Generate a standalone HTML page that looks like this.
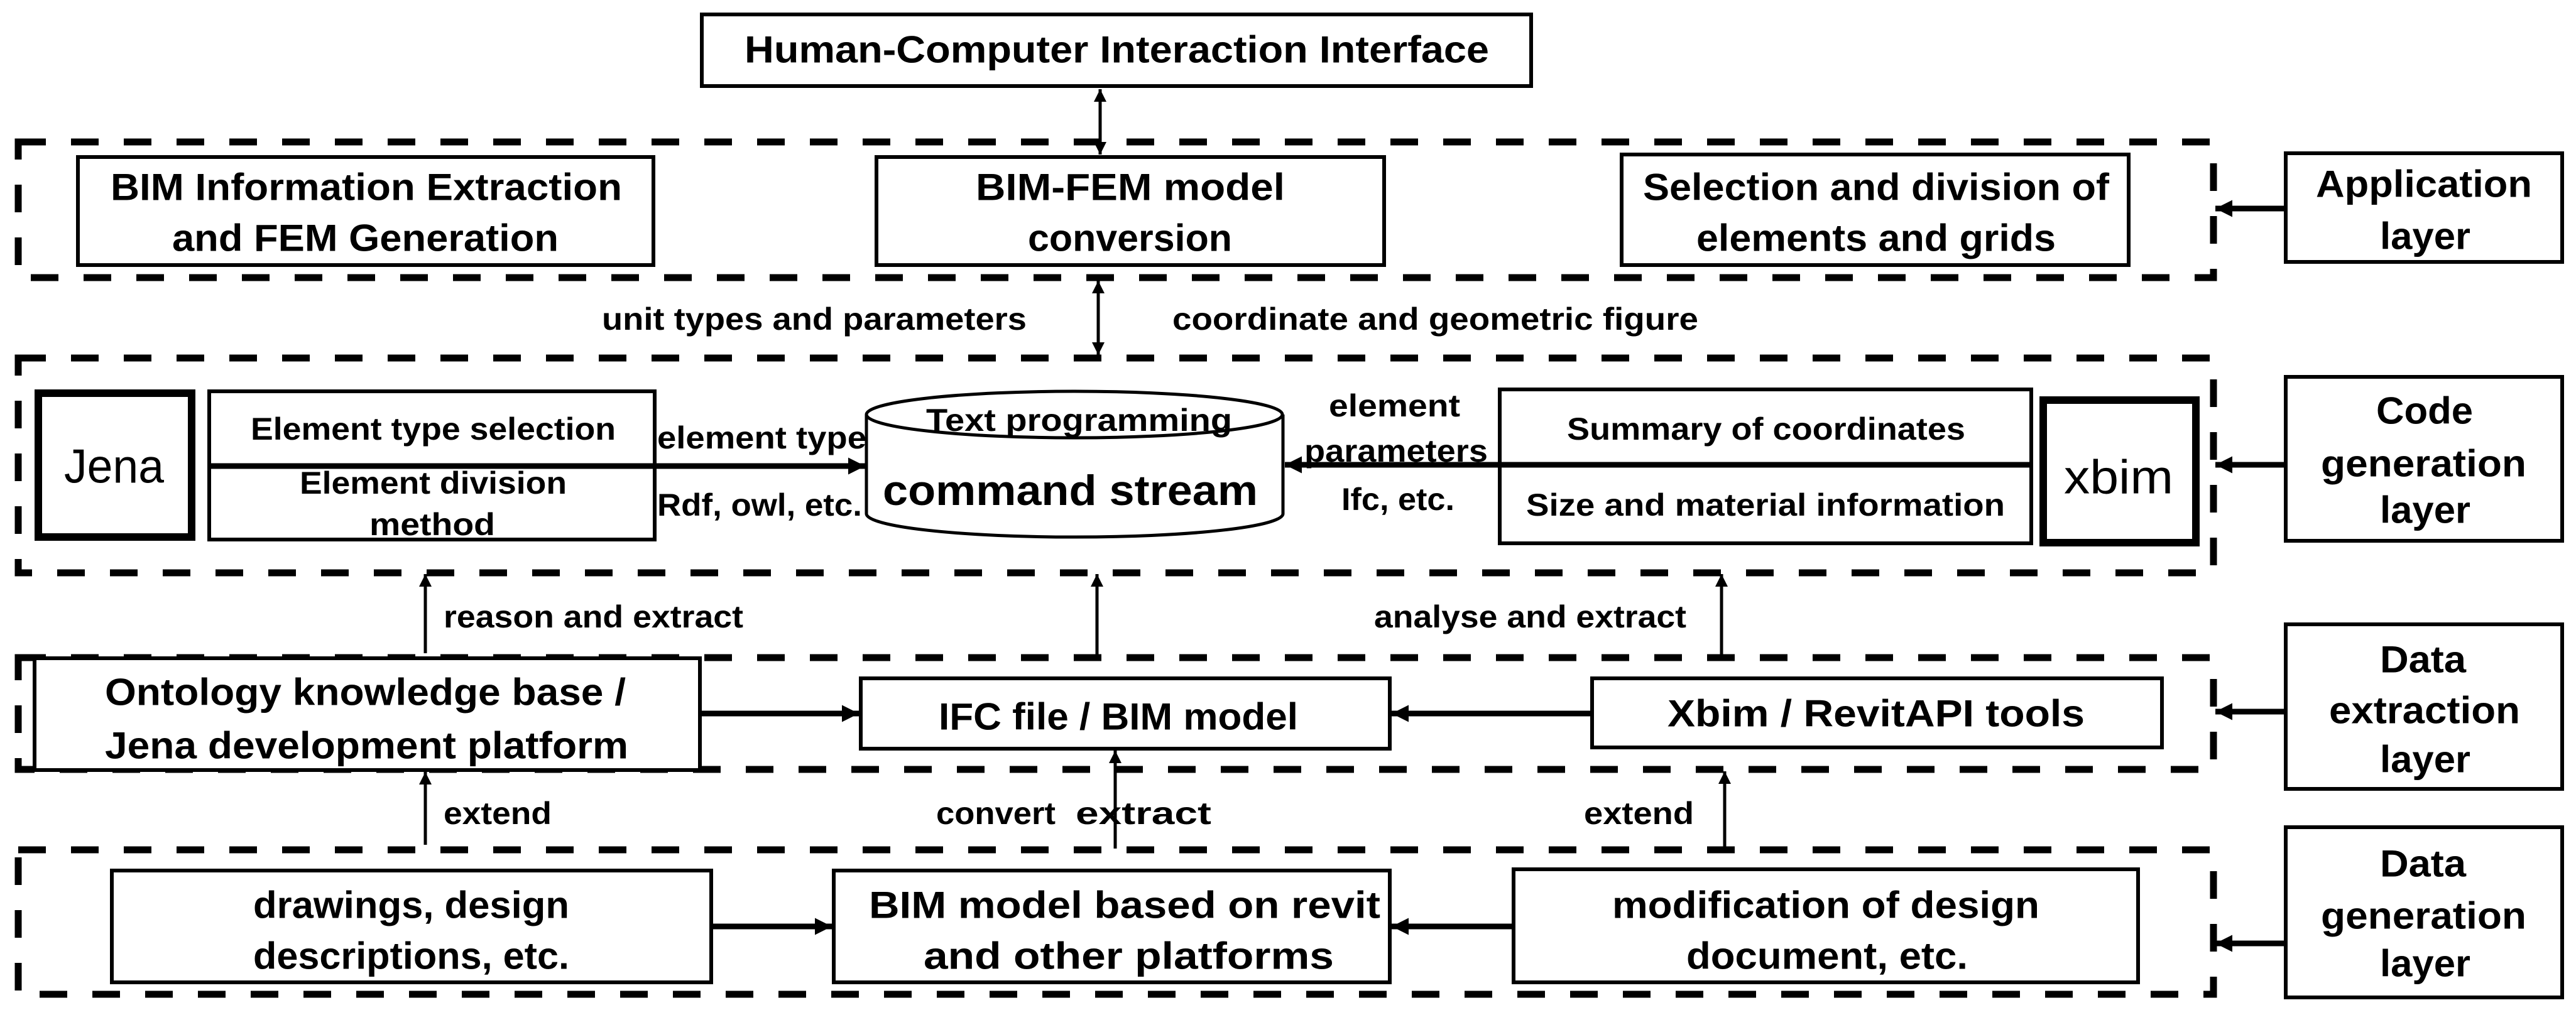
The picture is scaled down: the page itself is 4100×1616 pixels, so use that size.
<!DOCTYPE html>
<html><head><meta charset="utf-8"><style>
html,body{margin:0;padding:0;background:#fff;}
svg{display:block}
text{font-family:"Liberation Sans",sans-serif;font-weight:bold;fill:#000;dominant-baseline:central}
</style></head><body>
<svg width="4100" height="1616" viewBox="0 0 4100 1616" xmlns="http://www.w3.org/2000/svg">
<defs>
<marker id="a" viewBox="0 0 10 10" refX="10" refY="5" markerWidth="5.5" markerHeight="4" orient="auto-start-reverse" markerUnits="strokeWidth"><path d="M0,0 L10,5 L0,10 z" fill="#000"/></marker>
<marker id="b" viewBox="0 0 10 10" refX="10" refY="5" markerWidth="3" markerHeight="3" orient="auto-start-reverse" markerUnits="strokeWidth"><path d="M0,0 L10,5 L0,10 z" fill="#000"/></marker>
</defs>
<g fill="none" stroke="#000" stroke-width="11" stroke-dasharray="44 40">
<rect x="29" y="226" width="3494" height="216"/>
<rect x="29" y="570" width="3494" height="342"/>
<rect x="29" y="1047" width="3494" height="178"/>
<rect x="29" y="1353" width="3494" height="230"/>
</g>
<g fill="#fff" stroke="#000" stroke-width="6">
<rect x="1117" y="23" width="1320" height="114"/>
<rect x="124" y="250" width="916" height="172"/>
<rect x="1395" y="250" width="808" height="172"/>
<rect x="2581" y="246" width="807" height="176"/>
<rect x="3638" y="244" width="440" height="173"/>
<rect x="3638" y="600" width="440" height="261"/>
<rect x="3638" y="994" width="440" height="262"/>
<rect x="3638" y="1317" width="440" height="271"/>
<rect x="333" y="623" width="709" height="236"/>
<rect x="2387" y="620" width="846" height="245"/>
<rect x="55" y="1048" width="1059" height="178"/>
<rect x="1370" y="1080" width="842" height="112"/>
<rect x="2534" y="1080" width="907" height="110"/>
<rect x="178" y="1386" width="954" height="178"/>
<rect x="1327" y="1386" width="885" height="178"/>
<rect x="2409" y="1384" width="994" height="180"/>
</g>
<g fill="#fff" stroke="#000" stroke-width="12">
<rect x="61" y="626" width="244" height="229"/>
<rect x="3252" y="637" width="243" height="227"/>
</g>
<g stroke="#000" stroke-width="5" fill="#fff">
<path d="M1379,660 L1379,818 A331,37 0 0 0 2042,818 L2042,660"/>
<ellipse cx="1710" cy="660" rx="331" ry="37"/>
</g>
<g stroke="#000" fill="none">
<line x1="1751" y1="142" x2="1751" y2="246" stroke-width="5" marker-start="url(#a)" marker-end="url(#a)"/>
<line x1="1748" y1="447" x2="1748" y2="565" stroke-width="5" marker-start="url(#a)" marker-end="url(#a)"/>
<line x1="336" y1="742" x2="1377" y2="742" stroke-width="9" marker-end="url(#b)"/>
<line x1="3230" y1="740" x2="2045" y2="740" stroke-width="9" marker-end="url(#b)"/>
<line x1="3638" y1="332" x2="3526" y2="332" stroke-width="9" marker-end="url(#b)"/>
<line x1="3638" y1="740" x2="3526" y2="740" stroke-width="9" marker-end="url(#b)"/>
<line x1="3638" y1="1133" x2="3526" y2="1133" stroke-width="9" marker-end="url(#b)"/>
<line x1="3638" y1="1502" x2="3526" y2="1502" stroke-width="9" marker-end="url(#b)"/>
<line x1="677" y1="1040" x2="677" y2="914" stroke-width="5" marker-end="url(#a)"/>
<line x1="1746" y1="1045" x2="1746" y2="914" stroke-width="5" marker-end="url(#a)"/>
<line x1="2740" y1="1045" x2="2740" y2="914" stroke-width="5" marker-end="url(#a)"/>
<line x1="677" y1="1345" x2="677" y2="1229" stroke-width="5" marker-end="url(#a)"/>
<line x1="1775" y1="1351" x2="1775" y2="1195" stroke-width="5" marker-end="url(#a)"/>
<line x1="2745" y1="1351" x2="2745" y2="1228" stroke-width="5" marker-end="url(#a)"/>
<line x1="1114" y1="1136" x2="1367" y2="1136" stroke-width="9" marker-end="url(#b)"/>
<line x1="2534" y1="1136" x2="2215" y2="1136" stroke-width="9" marker-end="url(#b)"/>
<line x1="1132" y1="1475" x2="1324" y2="1475" stroke-width="9" marker-end="url(#b)"/>
<line x1="2409" y1="1475" x2="2215" y2="1475" stroke-width="9" marker-end="url(#b)"/>
</g>
<g font-size="60">
<text x="1185" y="79" textLength="1185" lengthAdjust="spacingAndGlyphs">Human-Computer Interaction Interface</text>
<text x="176" y="298" textLength="814" lengthAdjust="spacingAndGlyphs">BIM Information Extraction</text>
<text x="274" y="379" textLength="615" lengthAdjust="spacingAndGlyphs">and FEM Generation</text>
<text x="1553" y="298" textLength="492" lengthAdjust="spacingAndGlyphs">BIM-FEM model</text>
<text x="1636" y="379" textLength="325" lengthAdjust="spacingAndGlyphs">conversion</text>
<text x="2615" y="298" textLength="742" lengthAdjust="spacingAndGlyphs">Selection and division of</text>
<text x="2700" y="379" textLength="572" lengthAdjust="spacingAndGlyphs">elements and grids</text>
<text x="3686" y="293" textLength="344" lengthAdjust="spacingAndGlyphs">Application</text>
<text x="3788" y="376" textLength="144" lengthAdjust="spacingAndGlyphs">layer</text>
<text x="3782" y="654" textLength="154" lengthAdjust="spacingAndGlyphs">Code</text>
<text x="3694" y="738" textLength="327" lengthAdjust="spacingAndGlyphs">generation</text>
<text x="3788" y="812" textLength="144" lengthAdjust="spacingAndGlyphs">layer</text>
<text x="3788" y="1050" textLength="137" lengthAdjust="spacingAndGlyphs">Data</text>
<text x="3707" y="1131" textLength="304" lengthAdjust="spacingAndGlyphs">extraction</text>
<text x="3788" y="1209" textLength="144" lengthAdjust="spacingAndGlyphs">layer</text>
<text x="3788" y="1375" textLength="137" lengthAdjust="spacingAndGlyphs">Data</text>
<text x="3694" y="1458" textLength="327" lengthAdjust="spacingAndGlyphs">generation</text>
<text x="3788" y="1534" textLength="144" lengthAdjust="spacingAndGlyphs">layer</text>
<text x="167" y="1102" textLength="829" lengthAdjust="spacingAndGlyphs">Ontology knowledge base /</text>
<text x="167" y="1187" textLength="833" lengthAdjust="spacingAndGlyphs">Jena development platform</text>
<text x="1494" y="1141" textLength="572" lengthAdjust="spacingAndGlyphs">IFC file / BIM model</text>
<text x="2654" y="1136" textLength="664" lengthAdjust="spacingAndGlyphs">Xbim / RevitAPI  tools</text>
<text x="403" y="1441" textLength="503" lengthAdjust="spacingAndGlyphs">drawings, design</text>
<text x="403" y="1522" textLength="503" lengthAdjust="spacingAndGlyphs">descriptions, etc.</text>
<text x="1383" y="1441" textLength="814" lengthAdjust="spacingAndGlyphs">BIM model based on revit</text>
<text x="1470" y="1522" textLength="653" lengthAdjust="spacingAndGlyphs">and other platforms</text>
<text x="2566" y="1441" textLength="680" lengthAdjust="spacingAndGlyphs">modification of design</text>
<text x="2684" y="1522" textLength="448" lengthAdjust="spacingAndGlyphs">document, etc.</text>
</g>
<g font-size="50">
<text x="958" y="508" textLength="676" lengthAdjust="spacingAndGlyphs">unit types and parameters</text>
<text x="1866" y="508" textLength="837" lengthAdjust="spacingAndGlyphs">coordinate and geometric figure</text>
<text x="399" y="683" textLength="581" lengthAdjust="spacingAndGlyphs">Element type selection</text>
<text x="477" y="769" textLength="425" lengthAdjust="spacingAndGlyphs">Element division</text>
<text x="588" y="835" textLength="200" lengthAdjust="spacingAndGlyphs">method</text>
<text x="1046" y="697" textLength="333" lengthAdjust="spacingAndGlyphs">element type</text>
<text x="1046" y="804" textLength="326" lengthAdjust="spacingAndGlyphs">Rdf, owl, etc.</text>
<text x="1474" y="669" textLength="487" lengthAdjust="spacingAndGlyphs">Text programming</text>
<text x="2115" y="646" textLength="209" lengthAdjust="spacingAndGlyphs">element</text>
<text x="2076" y="718" textLength="292" lengthAdjust="spacingAndGlyphs">parameters</text>
<text x="2135" y="795" textLength="180" lengthAdjust="spacingAndGlyphs">Ifc, etc.</text>
<text x="2494" y="683" textLength="634" lengthAdjust="spacingAndGlyphs">Summary of coordinates</text>
<text x="2429" y="804" textLength="762" lengthAdjust="spacingAndGlyphs">Size and material information</text>
<text x="706" y="982" textLength="477" lengthAdjust="spacingAndGlyphs">reason and extract</text>
<text x="2187" y="982" textLength="497" lengthAdjust="spacingAndGlyphs">analyse and extract</text>
<text x="706" y="1295" textLength="172" lengthAdjust="spacingAndGlyphs">extend</text>
<text x="1490" y="1295" textLength="190" lengthAdjust="spacingAndGlyphs">convert</text>
<text x="1712" y="1295" textLength="216" lengthAdjust="spacingAndGlyphs">extract</text>
<text x="2521" y="1295" textLength="175" lengthAdjust="spacingAndGlyphs">extend</text>
</g>
<text x="1405" y="781" font-size="68" textLength="597" lengthAdjust="spacingAndGlyphs">command stream</text>
<text x="102" y="743" font-size="76" style="font-weight:normal" textLength="159" lengthAdjust="spacingAndGlyphs">Jena</text>
<text x="3285" y="760" font-size="76" style="font-weight:normal" textLength="174" lengthAdjust="spacingAndGlyphs">xbim</text>
</svg>
</body></html>
